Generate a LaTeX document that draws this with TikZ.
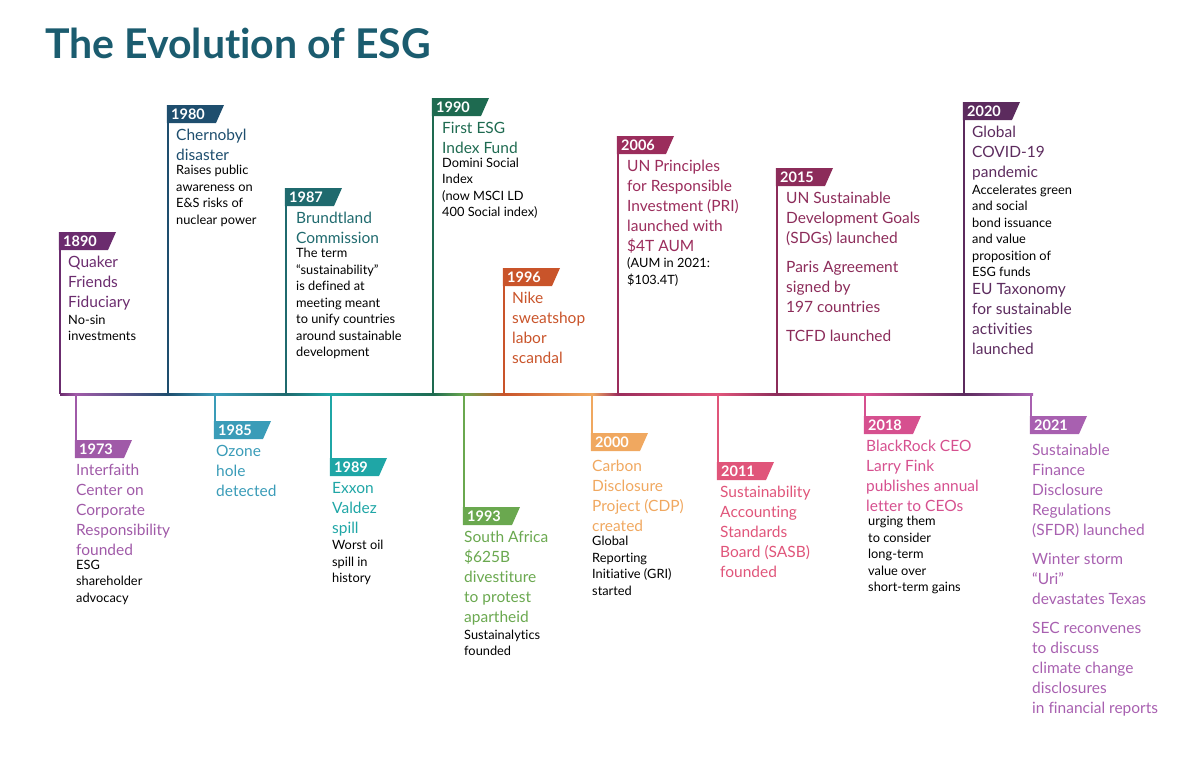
\documentclass[tikz,border=0pt]{standalone}
\usepackage{fontspec}
\setmainfont{Lato}[Ligatures={NoCommon}]
\usetikzlibrary{positioning}
\definecolor{cA}{HTML}{6B2C6E}
\definecolor{cB}{HTML}{A05AA8}
\definecolor{cC}{HTML}{1E4E6E}
\definecolor{cD}{HTML}{3A9CB8}
\definecolor{cE}{HTML}{1F6A6E}
\definecolor{cF}{HTML}{1FA6A6}
\definecolor{cG}{HTML}{1E6A50}
\definecolor{cH}{HTML}{6AA84F}
\definecolor{cI}{HTML}{C9542A}
\definecolor{cJ}{HTML}{F0A860}
\definecolor{cK}{HTML}{9B2D5C}
\definecolor{cL}{HTML}{E0557A}
\definecolor{cM}{HTML}{8C2C5A}
\definecolor{cN}{HTML}{D6508F}
\definecolor{cO}{HTML}{5C2B5E}
\definecolor{cP}{HTML}{A860B0}
\definecolor{titlec}{HTML}{1B5C6F}
\newcommand{\hdfont}{\fontsize{15.5}{20}\selectfont}
\newcommand{\bdfont}{\fontsize{12.8}{16.5}\selectfont}
\begin{document}
\begin{tikzpicture}[x=1pt,y=-1pt,
  yearlbl/.style={text=white,font=\bfseries\fontsize{14.5}{14}\selectfont,anchor=west,inner sep=0pt},
  headtxt/.style={anchor=north west,inner sep=0pt,align=left,font=\hdfont},
  bodytxt/.style={inner sep=0pt,align=left,font=\bdfont,below=4pt of #1.south west,anchor=north west}]
\useasboundingbox (0,0) rectangle (1201,756);
\node[anchor=base west,inner sep=0pt,text=titlec,font=\bfseries\fontsize{41}{41}\selectfont] (title) at (45,58) {The Evolution of ESG};
% baseline, shaded between the stems
\coordinate (base) at (60,394);
\foreach \xa/\xb/\ca/\cb in {60/76/cA/cB,76/168/cB/cC,168/215/cC/cD,215/286/cD/cE,286/331/cE/cF,331/433/cF/cG,433/464/cG/cH,464/504/cH/cI,504/592/cI/cJ,592/618/cJ/cK,618/718/cK/cL,718/777/cL/cM,777/865/cM/cN,865/964/cN/cO,964/1033/cO/cP}
  \shade[left color=\ca,right color=\cb] (\xa,393) rectangle (\xb,395.2);
% stems and flags: x / flag top / colour / year / up(1) or down(0)
\foreach \x/\y/\c/\yr/\up in {60/232/cA/1890/1,168/105/cC/1980/1,286/188/cE/1987/1,433/98/cG/1990/1,504/268/cI/1996/1,618/136/cK/2006/1,777/168/cM/2015/1,964/102/cO/2020/1,76/440/cB/1973/0,215/421/cD/1985/0,331/458/cF/1989/0,464/507/cH/1993/0,592/433/cJ/2000/0,718/462/cL/2011/0,865/416/cN/2018/0,1031/416/cP/2021/0}{
  \ifnum\up=1
    \draw[\c,line width=2.2pt] (\x,\y) -- (\x,394);
  \else
    \draw[\c,line width=2.2pt] (\x,394) -- (\x,\y+18);
  \fi
  \fill[\c] (\x-1.1,\y) -- (\x+56,\y) -- (\x+48,\y+18) -- (\x-1.1,\y+18) -- cycle;
  \node[yearlbl] (f\yr) at (\x+3,\y+9.5) {\yr};
}
% texts above the line
\node[headtxt,text=cA] (h1890) at (68,256) {Quaker\\Friends\\Fiduciary};
\node[bodytxt=h1890] (b1890) {No-sin\\investments};
\node[headtxt,text=cC] (h1980) at (176,129) {Chernobyl\\disaster};
\node[bodytxt=h1980] (b1980) {Raises public\\awareness on\\E\&S risks of\\nuclear power};
\node[headtxt,text=cE] (h1987) at (296,212) {Brundtland\\Commission};
\node[bodytxt=h1987] (b1987) {The term\\“sustainability”\\is defined at\\meeting meant\\to unify countries\\around sustainable\\development};
\node[headtxt,text=cG] (h1990) at (442,122) {First ESG\\Index Fund};
\node[bodytxt=h1990] (b1990) {Domini Social\\Index\\(now MSCI LD\\400 Social index)};
\node[headtxt,text=cI] (h1996) at (512,292) {Nike\\sweatshop\\labor\\scandal};
\node[headtxt,text=cK] (h2006) at (627,160) {UN Principles\\for Responsible\\Investment (PRI)\\launched with\\\$4T AUM};
\node[bodytxt=h2006] (b2006) {(AUM in 2021:\\\$103.4T)};
\node[headtxt,text=cM] (h2015) at (786,192) {UN Sustainable\\Development Goals\\(SDGs) launched\\[9pt]Paris Agreement\\signed by\\197 countries\\[9pt]TCFD launched};
\node[headtxt,text=cO] (h2020) at (972,126) {Global\\COVID-19\\pandemic};
\node[bodytxt=h2020] (b2020) {Accelerates green\\and social\\bond issuance\\and value\\proposition of\\ESG funds};
\node[headtxt,text=cO,below=6pt of b2020.south west,anchor=north west] (h2020b) {EU Taxonomy\\for sustainable\\activities\\launched};
% texts below the line
\node[headtxt,text=cB] (h1973) at (76,464) {Interfaith\\Center on\\Corporate\\Responsibility\\founded};
\node[bodytxt=h1973] (b1973) {ESG\\shareholder\\advocacy};
\node[headtxt,text=cD] (h1985) at (216,445) {Ozone\\hole\\detected};
\node[headtxt,text=cF] (h1989) at (332,482) {Exxon\\Valdez\\spill};
\node[bodytxt=h1989] (b1989) {Worst oil\\spill in\\history};
\node[headtxt,text=cH] (h1993) at (464,531) {South Africa\\\$625B\\divestiture\\to protest\\apartheid};
\node[bodytxt=h1993] (b1993) {Sustainalytics\\founded};
\node[headtxt,text=cJ] (h2000) at (592,460) {Carbon\\Disclosure\\Project (CDP)\\created};
\node[bodytxt=h2000] (b2000) {Global\\Reporting\\Initiative (GRI)\\started};
\node[headtxt,text=cL] (h2011) at (720,486) {Sustainability\\Accounting\\Standards\\Board (SASB)\\founded};
\node[headtxt,text=cN] (h2018) at (866,440) {BlackRock CEO\\Larry Fink\\publishes annual\\letter to CEOs};
\node[bodytxt=h2018,xshift=2pt] (b2018) {urging them\\to consider\\long-term\\value over\\short-term gains};
\node[headtxt,text=cP] (h2021) at (1032,444) {Sustainable\\Finance\\Disclosure\\Regulations\\(SFDR) launched\\[9pt]Winter storm\\“Uri”\\devastates Texas\\[9pt]SEC reconvenes\\to discuss\\climate change\\disclosures\\in financial reports};
\end{tikzpicture}
\end{document}
